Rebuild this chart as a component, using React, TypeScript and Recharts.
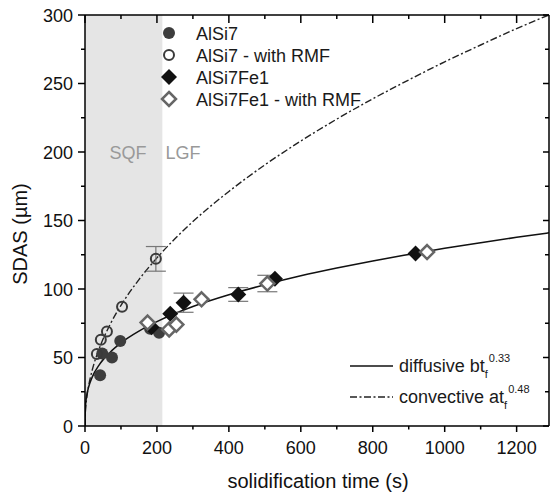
import React from "react";
import {
  ComposedChart,
  XAxis,
  YAxis,
  Scatter,
  Line,
  ErrorBar,
  ReferenceArea,
} from "recharts";

const FONT = "'Liberation Sans', Arial, sans-serif";

// x ticks (major every 200, minor in between)
const xTicks = [0, 100, 200, 300, 400, 500, 600, 700, 800, 900, 1000, 1100, 1200];
const yTicks = [0, 25, 50, 75, 100, 125, 150, 175, 200, 225, 250, 275, 300];

// measured points: solidification time (s) vs SDAS (µm)
const alsi7 = [
  { t: 42, v: 37 },
  { t: 48, v: 53 },
  { t: 75, v: 50 },
  { t: 98, v: 62 },
  { t: 181, v: 71 },
  { t: 206, v: 68 },
];
const alsi7Rmf = [
  { t: 33, v: 52.5 },
  { t: 44, v: 63 },
  { t: 61, v: 69 },
  { t: 103, v: 87 },
  { t: 197, v: 122 },
];
const alsi7Fe1 = [
  { t: 185, v: 72 },
  { t: 237, v: 82 },
  { t: 274, v: 90 },
  { t: 426, v: 96 },
  { t: 528, v: 107.5 },
  { t: 919, v: 126 },
];
const alsi7Fe1Rmf = [
  { t: 174, v: 75.5 },
  { t: 234, v: 70.5 },
  { t: 254, v: 74 },
  { t: 324, v: 92.5 },
  { t: 507, v: 104 },
  { t: 951, v: 127 },
];
// error bars
const errors = [
  { t: 197, v: 122, err: 9 },
  { t: 274, v: 90, err: 7 },
  { t: 426, v: 96, err: 5 },
  { t: 507, v: 104, err: 6 },
];

// fitted curves
const diffusive = [
  { t: 0, v: 0 }, { t: 1, v: 13.3 }, { t: 2, v: 16.7 }, { t: 5, v: 22.6 },
  { t: 10, v: 28.4 }, { t: 20, v: 35.7 }, { t: 40, v: 44.8 }, { t: 70, v: 53.9 },
  { t: 100, v: 60.7 }, { t: 150, v: 69.3 }, { t: 200, v: 76.2 }, { t: 300, v: 87.2 },
  { t: 400, v: 95.8 }, { t: 500, v: 103.1 }, { t: 600, v: 109.6 }, { t: 700, v: 115.3 },
  { t: 800, v: 120.5 }, { t: 900, v: 125.2 }, { t: 1000, v: 129.7 }, { t: 1100, v: 133.8 },
  { t: 1200, v: 137.7 }, { t: 1290, v: 141 },
];
const convective = [
  { t: 0, v: 0 }, { t: 1, v: 9.7 }, { t: 2, v: 13.5 }, { t: 5, v: 20.9 },
  { t: 10, v: 29.1 }, { t: 20, v: 40.7 }, { t: 40, v: 56.7 }, { t: 70, v: 74.2 },
  { t: 100, v: 88 }, { t: 150, v: 106.9 }, { t: 200, v: 122.7 }, { t: 300, v: 149.2 },
  { t: 400, v: 171.2 }, { t: 500, v: 190.6 }, { t: 600, v: 208 }, { t: 700, v: 224 },
  { t: 800, v: 238.8 }, { t: 900, v: 252.6 }, { t: 1000, v: 265.8 }, { t: 1100, v: 278.1 },
  { t: 1200, v: 290.1 }, { t: 1290, v: 300 },
];

const DASHDOT = "7 2.5 2 2.5";

const BottomTick = ({ x, y, payload }: any) => {
  const major = payload.value % 200 === 0;
  return (
    <g>
      <line x1={x} y1={y} x2={x} y2={y + (major ? 6 : 3.5)} stroke="#000" strokeWidth={1.5} />
      {major && (
        <text x={x} y={y + 28} textAnchor="middle" fontSize={18} fontFamily={FONT} fill="#111">
          {payload.value}
        </text>
      )}
    </g>
  );
};

const TopTick = ({ x, y, payload }: any) => {
  const major = payload.value % 200 === 0;
  return <line x1={x} y1={y} x2={x} y2={y + (major ? 8 : 4)} stroke="#000" strokeWidth={1.5} />;
};

const LeftTick = ({ x, y, payload }: any) => {
  const major = payload.value % 50 === 0;
  return (
    <g>
      <line x1={x - (major ? 7 : 4)} y1={y} x2={x} y2={y} stroke="#000" strokeWidth={1.5} />
      {major && (
        <text x={x - 12} y={y + 6.5} textAnchor="end" fontSize={18} fontFamily={FONT} fill="#111">
          {payload.value}
        </text>
      )}
    </g>
  );
};

const RightTick = ({ x, y, payload }: any) => {
  const major = payload.value % 50 === 0;
  return <line x1={x - (major ? 6 : 4)} y1={y} x2={x} y2={y} stroke="#000" strokeWidth={1.5} />;
};

const FilledCircle = ({ cx, cy }: any) => <circle cx={cx} cy={cy} r={6} fill="#3d3d3d" />;
const OpenCircle = ({ cx, cy }: any) => (
  <circle cx={cx} cy={cy} r={5} fill="none" stroke="#3a3a3a" strokeWidth={2} />
);
const FilledDiamond = ({ cx, cy }: any) => (
  <path d={`M${cx},${cy - 8}L${cx + 8},${cy}L${cx},${cy + 8}L${cx - 8},${cy}Z`} fill="#111" />
);
const OpenDiamond = ({ cx, cy }: any) => (
  <path
    d={`M${cx},${cy - 7}L${cx + 7},${cy}L${cx},${cy + 7}L${cx - 7},${cy}Z`}
    fill="#fff"
    stroke="#666"
    strokeWidth={2.5}
  />
);
const NoShape = () => <g />;

function Overlay() {
  const legend = [
    { name: "AlSi7", y: 33, Shape: FilledCircle },
    { name: "AlSi7 - with RMF", y: 55, Shape: OpenCircle },
    { name: "AlSi7Fe1", y: 77, Shape: FilledDiamond },
    { name: "AlSi7Fe1 - with RMF", y: 99, Shape: OpenDiamond },
  ];
  return (
    <svg
      width={550}
      height={494}
      style={{ position: "absolute", left: 0, top: 0, pointerEvents: "none" }}
      fontFamily={FONT}
    >
      <text x={128} y={159} textAnchor="middle" fontSize={18} fill="#999">SQF</text>
      <text x={183} y={159} textAnchor="middle" fontSize={18} fill="#999">LGF</text>
      {legend.map((l) => (
        <g key={l.name}>
          <l.Shape cx={169} cy={l.y} />
          <text x={196} y={l.y + 6.5} fontSize={18} fill="#1a1a1a">{l.name}</text>
        </g>
      ))}
      <line x1={350} y1={366} x2={393} y2={366} stroke="#111" strokeWidth={1.5} />
      <text x={399} y={372} fontSize={18} fill="#1a1a1a">
        diffusive bt
        <tspan fontSize={11} dy={6}>f</tspan>
        <tspan fontSize={11} dx={1} dy={-16}>0.33</tspan>
      </text>
      <line x1={350} y1={397} x2={393} y2={397} stroke="#222" strokeWidth={1.4} strokeDasharray={DASHDOT} />
      <text x={399} y={403} fontSize={18} fill="#1a1a1a">
        convective at
        <tspan fontSize={11} dy={6}>f</tspan>
        <tspan fontSize={11} dx={1} dy={-16}>0.48</tspan>
      </text>
      <text x={318} y={488} textAnchor="middle" fontSize={20} fill="#111">solidification time (s)</text>
      <text
        x={0}
        y={0}
        transform="translate(27,234) rotate(-90)"
        textAnchor="middle"
        fontSize={20}
        fill="#111"
      >
        SDAS (µm)
      </text>
    </svg>
  );
}

export default function App() {
  return (
    <div style={{ position: "absolute", left: 0, top: 0, width: 550, height: 494, background: "#fff" }}>
      <ComposedChart width={550} height={494} margin={{ top: 14, right: 0, bottom: 0, left: 0 }}>
        <XAxis
          dataKey="t"
          type="number"
          domain={[0, 1290]}
          ticks={xTicks}
          interval={0}
          height={68}
          tickSize={0}
          tickMargin={0}
          tickLine={false}
          axisLine={{ stroke: "#000", strokeWidth: 1.5 }}
          tick={<BottomTick />}
          allowDataOverflow
        />
        <XAxis
          xAxisId="top"
          orientation="top"
          dataKey="t"
          type="number"
          domain={[0, 1290]}
          ticks={xTicks}
          interval={0}
          height={1}
          tickSize={0}
          tickMargin={0}
          tickLine={false}
          axisLine={{ stroke: "#000", strokeWidth: 1.5 }}
          tick={<TopTick />}
          allowDataOverflow
        />
        <YAxis
          type="number"
          domain={[0, 300]}
          ticks={yTicks}
          interval={0}
          width={85}
          tickSize={0}
          tickMargin={0}
          tickLine={false}
          axisLine={{ stroke: "#000", strokeWidth: 1.5 }}
          tick={<LeftTick />}
          allowDataOverflow
        />
        <YAxis
          yAxisId="right"
          orientation="right"
          type="number"
          domain={[0, 300]}
          ticks={yTicks}
          interval={0}
          width={1}
          tickSize={0}
          tickMargin={0}
          tickLine={false}
          axisLine={{ stroke: "#000", strokeWidth: 1.5 }}
          tick={<RightTick />}
          allowDataOverflow
        />
        <ReferenceArea x1={0} x2={215} y1={0} y2={300} fill="#e5e5e5" fillOpacity={1} stroke="none" />
        {/* invisible series so the mirrored frame axes get registered */}
        <Line
          data={diffusive}
          dataKey="v"
          xAxisId="top"
          yAxisId="right"
          stroke="none"
          dot={false}
          activeDot={false}
          isAnimationActive={false}
        />
        <Line
          data={convective}
          dataKey="v"
          type="monotone"
          stroke="#222"
          strokeWidth={1.4}
          strokeDasharray={DASHDOT}
          dot={false}
          isAnimationActive={false}
        />
        <Line
          data={diffusive}
          dataKey="v"
          type="monotone"
          stroke="#111"
          strokeWidth={1.5}
          dot={false}
          isAnimationActive={false}
        />
        <Scatter data={errors} dataKey="v" shape={<NoShape />} isAnimationActive={false}>
          <ErrorBar dataKey="err" direction="y" width={10} stroke="#777" strokeWidth={1.2} />
        </Scatter>
        <Scatter data={alsi7} dataKey="v" shape={<FilledCircle />} isAnimationActive={false} />
        <Scatter data={alsi7Rmf} dataKey="v" shape={<OpenCircle />} isAnimationActive={false} />
        <Scatter data={alsi7Fe1} dataKey="v" shape={<FilledDiamond />} isAnimationActive={false} />
        <Scatter data={alsi7Fe1Rmf} dataKey="v" shape={<OpenDiamond />} isAnimationActive={false} />
      </ComposedChart>
      <Overlay />
    </div>
  );
}
